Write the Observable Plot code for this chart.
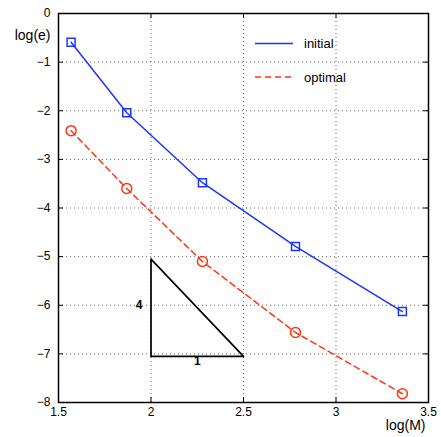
<!DOCTYPE html>
<html>
<head>
<meta charset="utf-8">
<script src="https://cdn.jsdelivr.net/npm/d3@7"></script>
<script src="https://cdn.jsdelivr.net/npm/@observablehq/plot@0.6"></script>
<style>
  html, body { margin: 0; padding: 0; background: #fff; }
  svg { display: block; }
</style>
</head>
<body>
<div id="chart"></div>
<script>
// ---- data ----
const logM = [1.568, 1.869, 2.278, 2.781, 3.359];
const initialErr = [-0.59, -2.04, -3.48, -4.79, -6.13];
const optimalErr = [-2.41, -3.60, -5.10, -6.56, -7.82];
const seriesNames = ["initial", "optimal"];
const xTicks = [1.5, 2, 2.5, 3, 3.5];
const yTicks = [-8, -7, -6, -5, -4, -3, -2, -1, 0];
const triangleX = [2, 2, 2.5, 2];
const triangleY = [-5.05, -7.05, -7.05, -5.05];
const triangleLabels = ["4", "1"];
const triangleLabelX = [1.935, 2.25];
const triangleLabelY = [-6.0, -7.14];

const BLUE = "#1a35ff";
const RED = "#ff3512";
const FONT = "'Liberation Sans', Arial, Helvetica, sans-serif";

const initial = logM.map((x, i) => ({x, y: initialErr[i]}));
const optimal = logM.map((x, i) => ({x, y: optimalErr[i]}));
const tri = triangleX.map((x, i) => ({x, y: triangleY[i]}));
const triLab = triangleLabels.map((t, i) => ({t, x: triangleLabelX[i], y: triangleLabelY[i]}));

const W = 441, H = 437;
const mL = 58, mT = 13, mR = 13, mB = 35;
const fw = W - mL - mR, fh = H - mT - mB;

const plot = Plot.plot({
  width: W, height: H,
  marginLeft: mL, marginTop: mT, marginRight: mR, marginBottom: mB,
  style: {fontFamily: FONT, fontSize: "12px", color: "#000", background: "#fff"},
  x: {domain: [1.5, 3.5]},
  y: {domain: [-8, 0]},
  marks: [
    Plot.gridX(xTicks, {stroke: "#666", strokeOpacity: 1, strokeDasharray: "1,3"}),
    Plot.gridY(yTicks, {stroke: "#666", strokeOpacity: 1, strokeDasharray: "1,3"}),
    Plot.tickX(xTicks, {x: d => d, insetTop: fh - 5, stroke: "#000"}),
    Plot.tickX(xTicks, {x: d => d, insetBottom: fh - 5, stroke: "#000"}),
    Plot.tickY(yTicks, {y: d => d, insetLeft: fw - 5, stroke: "#000"}),
    Plot.tickY(yTicks, {y: d => d, insetRight: fw - 5, stroke: "#000"}),
    Plot.axisX(xTicks, {tickSize: 0, tickPadding: 5, label: null, fontSize: 12, tickFormat: d => String(d)}),
    Plot.axisY(yTicks, {tickSize: 0, tickPadding: 8, label: null, fontSize: 12}),
    Plot.line(tri, {x: "x", y: "y", stroke: "#000", strokeWidth: 1.7}),
    Plot.text(triLab, {x: "x", y: "y", text: "t", fontWeight: "bold", fontSize: 12, fill: "#000"}),
    Plot.line(initial, {x: "x", y: "y", stroke: BLUE, strokeWidth: 1.5}),
    Plot.dot(initial, {x: "x", y: "y", symbol: "square", r: 4.5, stroke: BLUE, strokeWidth: 1.5, fill: "none"}),
    Plot.line(optimal, {x: "x", y: "y", stroke: RED, strokeWidth: 1.5, strokeDasharray: "6,4"}),
    Plot.dot(optimal, {x: "x", y: "y", symbol: "circle", r: 5, stroke: RED, strokeWidth: 1.5, fill: "none"}),
    Plot.frame({stroke: "#000", strokeWidth: 1.5}),
    Plot.text(["log(e)"], {frameAnchor: "top-left", text: d => d, dx: -8, dy: 17, textAnchor: "end", fontSize: 14}),
    Plot.text(["log(M)"], {frameAnchor: "bottom-right", text: d => d, dx: -3, dy: 27, textAnchor: "end", fontSize: 14})
  ]
});

// legend (pixel layout)
const svg = d3.select(plot);
const leg = svg.append("g");
const legY = [43.5, 77];
const legColors = [BLUE, RED];
const legDash = [null, "6,4"];
seriesNames.forEach((name, i) => {
  leg.append("line")
    .attr("x1", 255).attr("x2", 293)
    .attr("y1", legY[i]).attr("y2", legY[i])
    .attr("stroke", legColors[i]).attr("stroke-width", 1.5)
    .attr("stroke-dasharray", legDash[i]);
  leg.append("text")
    .attr("x", 304).attr("y", legY[i]).attr("dy", "0.35em")
    .attr("text-anchor", "start")
    .attr("font-family", FONT)
    .attr("font-size", 13).attr("fill", "#000")
    .text(name);
});

document.getElementById("chart").appendChild(plot);
</script>
</body>
</html>
